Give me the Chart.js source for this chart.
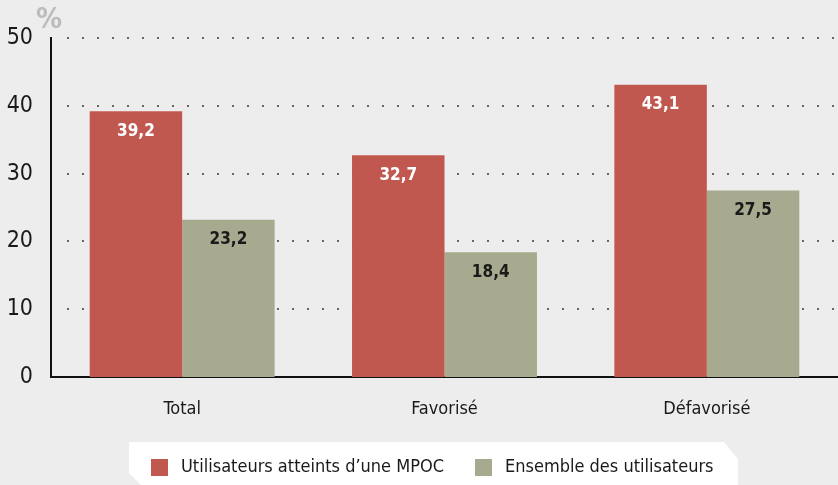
<!DOCTYPE html>
<html><head><meta charset="utf-8">
<style>html,body{margin:0;padding:0;background:#ededed;}#wrap{width:838px;height:485px;}</style>
<script src="https://cdn.jsdelivr.net/npm/chart.js@4.4.1/dist/chart.umd.min.js"></script>
</head><body><div id="wrap"><canvas id="c" width="838" height="485"></canvas></div>
<script>
const categories = ["Total", "Favorisé", "Défavorisé"];
const seriesNames = ["Utilisateurs atteints d’une MPOC", "Ensemble des utilisateurs"];
const mpocValues = [39.2, 32.7, 43.1];
const allValues = [23.2, 18.4, 27.5];
const yTicks = [0, 10, 20, 30, 40, 50];
const unitLabel = "%";

const FONT = '"Liberation Sans Narrow", "DejaVu Sans Condensed", "Roboto Condensed", Roboto, sans-serif';
const RED = '#c0584f', GREEN = '#a7aa8e';

const decorPlugin = {
  id: 'decor',
  beforeDatasetsDraw(chart) {
    const ctx = chart.ctx, y = chart.scales.y, a = chart.chartArea;
    ctx.save();
    ctx.fillStyle = '#666';
    yTicks.forEach(v => {
      if (v === 0) return;
      const py = Math.round(y.getPixelForValue(v));
      for (let x = a.left + 16; x < a.right; x += 15) ctx.fillRect(x, py - 1, 2, 2);
    });
    ctx.restore();
  },
  afterDatasetsDraw(chart) {
    const ctx = chart.ctx;
    ctx.save();
    ctx.font = 'bold 17px ' + FONT;
    ctx.textAlign = 'center';
    ctx.textBaseline = 'middle';
    chart.data.datasets.forEach((ds, di) => {
      const meta = chart.getDatasetMeta(di);
      meta.data.forEach((bar, i) => {
        ctx.fillStyle = di === 0 ? '#ffffff' : '#1a1a1a';
        ctx.fillText(ds.data[i].toFixed(1).replace('.', ','), bar.x, bar.y + 20);
      });
    });
    ctx.restore();
  },
  afterDraw(chart) {
    const ctx = chart.ctx;
    ctx.save();
    // unit label
    ctx.font = 'bold 29px ' + FONT;
    ctx.fillStyle = '#bcbcbc';
    ctx.textAlign = 'left';
    ctx.textBaseline = 'alphabetic';
    ctx.fillText(unitLabel, 36, 28);
    // legend box
    ctx.fillStyle = '#ffffff';
    ctx.beginPath();
    ctx.moveTo(129, 442); ctx.lineTo(724, 442); ctx.lineTo(738, 459);
    ctx.lineTo(738, 485); ctx.lineTo(141, 485); ctx.lineTo(129, 473);
    ctx.closePath(); ctx.fill();
    ctx.font = '18px ' + FONT;
    ctx.textBaseline = 'middle';
    const items = [[151, RED, seriesNames[0]], [475, GREEN, seriesNames[1]]];
    items.forEach(([x, col, txt]) => {
      ctx.fillStyle = col;
      ctx.fillRect(x, 459, 17, 17);
      ctx.fillStyle = '#1a1a1a';
      ctx.fillText(txt, x + 30, 467.5);
    });
    ctx.restore();
  }
};

new Chart(document.getElementById('c'), {
  type: 'bar',
  data: {
    labels: categories,
    datasets: [
      { label: seriesNames[0], data: mpocValues, backgroundColor: RED },
      { label: seriesNames[1], data: allValues, backgroundColor: GREEN }
    ]
  },
  options: {
    responsive: false,
    animation: false,
    devicePixelRatio: 1,
    layout: { padding: { top: 38, right: 0, bottom: 60, left: 0 } },
    plugins: { legend: { display: false }, tooltip: { enabled: false } },
    datasets: { bar: { categoryPercentage: 0.705, barPercentage: 1.0 } },
    scales: {
      x: {
        grid: { display: false },
        border: { display: true, color: '#111', width: 2 },
        ticks: { color: '#1a1a1a', font: { family: FONT, size: 18 }, padding: 14 },
        afterFit(s) { s.height = 48; }
      },
      y: {
        min: 0, max: 50,
        afterBuildTicks(s) { s.ticks = yTicks.map(v => ({ value: v })); },
        grid: { display: false },
        border: { display: true, color: '#111', width: 2 },
        ticks: { color: '#1a1a1a', font: { family: FONT, size: 23 }, padding: 10 },
        afterFit(s) { s.width = 51; }
      }
    }
  },
  plugins: [decorPlugin]
});
</script></body></html>
